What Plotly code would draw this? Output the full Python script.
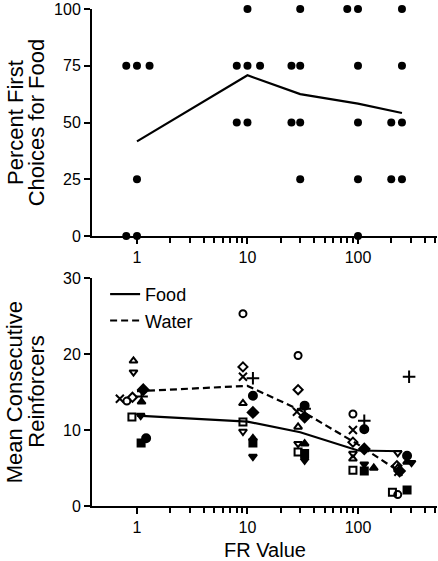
import plotly.graph_objects as go

# ---------------- data ----------------
fr_values = [1, 10, 30, 100, 250]

# top panel: individual subjects (x jittered around FR value), percent first choices for food
top_x = [0.8, 1, 1.3, 1, 0.8, 1,
         10, 8, 10, 13, 8, 10,
         30, 25, 30, 25, 30, 30,
         80, 100, 100, 100, 100, 100,
         250, 250, 200, 250, 200, 250]
top_y = [75, 75, 75, 25, 0, 0,
         100, 75, 75, 75, 50, 50,
         100, 75, 75, 50, 50, 25,
         100, 100, 75, 50, 25, 0,
         100, 75, 50, 50, 25, 25]
top_mean = [41.7, 70.8, 62.5, 58.3, 54.2]

# bottom panel means
food_mean = [11.9, 11.1, 9.7, 7.3, 7.2]
water_mean = [15.1, 15.8, 12.6, 8.1, 4.3]

# bottom panel individual subjects: water (open symbols / x)
w_circle_x = [0.81, 9.1, 28.7, 90, 229]
w_circle_y = [13.8, 25.3, 19.8, 12.1, 1.5]
w_square_x = [0.90, 9.1, 28.7, 90, 205]
w_square_y = [11.7, 11.05, 7.1, 4.7, 1.8]
w_triup_x = [0.93, 9.1, 28.7, 90, 229]
w_triup_y = [19.1, 13.5, 10.4, 6.2, 5.0]
w_tridown_x = [0.93, 9.1, 28.7, 90, 229]
w_tridown_y = [17.6, 9.8, 8.2, 6.9, 7.0]
w_diamond_x = [0.91, 9.1, 28.7, 90, 225]
w_diamond_y = [14.3, 18.3, 15.3, 8.4, 5.3]
w_x_x = [0.70, 9.1, 28.0, 90, 232]
w_x_y = [14.1, 17.0, 12.4, 10.0, 4.5]

# food (filled symbols / plus)
f_circle_x = [1.21, 11.2, 32.9, 114, 278]
f_circle_y = [8.9, 14.5, 13.2, 10.1, 6.6]
f_square_x = [1.09, 11.2, 32.9, 114, 278]
f_square_y = [8.3, 8.3, 6.9, 4.6, 2.1]
f_triup_x = [1.10, 11.2, 32.9, 139, 278]
f_triup_y = [13.7, 8.9, 8.2, 5.0, 5.8]
f_tridown_x = [1.08, 11.2, 32.9, 114, 305]
f_tridown_y = [11.9, 6.5, 6.0, 5.5, 5.7]
f_diamond_x = [1.14, 11.2, 32.9, 114, 238]
f_diamond_y = [15.3, 12.3, 11.7, 7.5, 4.6]
f_plus_x = [1.10, 11.2, 32.9, 114, 290]
f_plus_y = [14.4, 16.8, 12.8, 11.2, 17.0]

major_ticks = [1, 10, 100]
major_text = ["1", "10", "100"]
minor_ticks = [2, 3, 4, 5, 6, 7, 8, 9, 20, 30, 40, 50, 60, 70, 80, 90, 200, 300, 400, 500]
top_yticks = [0, 25, 50, 75, 100]
bot_yticks = [0, 10, 20, 30]

FONT = "Liberation Sans, Arial, Helvetica, sans-serif"

fig = go.Figure()

# ---------- top panel ----------
fig.add_trace(go.Scatter(x=fr_values, y=top_mean, mode="lines",
                         line=dict(color="black", width=2.2),
                         showlegend=False, xaxis="x", yaxis="y", cliponaxis=False))
fig.add_trace(go.Scatter(x=top_x, y=top_y, mode="markers",
                         marker=dict(symbol="circle", size=8, color="black"),
                         showlegend=False, xaxis="x", yaxis="y", cliponaxis=False))

# ---------- bottom panel ----------
fig.add_trace(go.Scatter(x=fr_values, y=food_mean, mode="lines", name="Food",
                         line=dict(color="black", width=2.2),
                         xaxis="x2", yaxis="y2", cliponaxis=False))
fig.add_trace(go.Scatter(x=fr_values, y=water_mean, mode="lines", name="Water",
                         line=dict(color="black", width=2.2, dash="7px,4px"),
                         xaxis="x2", yaxis="y2", cliponaxis=False))

series = [
    (w_circle_x, w_circle_y, "circle-open", 7),
    (w_square_x, w_square_y, "square-open", 7),
    (w_triup_x, w_triup_y, "triangle-up-open", 7),
    (w_tridown_x, w_tridown_y, "triangle-down-open", 7),
    (w_diamond_x, w_diamond_y, "diamond-open", 7),
    (w_x_x, w_x_y, "x-thin-open", 8),
    (f_circle_x, f_circle_y, "circle", 8),
    (f_square_x, f_square_y, "square", 7),
    (f_triup_x, f_triup_y, "triangle-up", 7),
    (f_tridown_x, f_tridown_y, "triangle-down", 7),
    (f_diamond_x, f_diamond_y, "diamond", 8),
    (f_plus_x, f_plus_y, "cross-thin-open", 9),
]
for xs, ys, sym, sz in series:
    fig.add_trace(go.Scatter(x=xs, y=ys, mode="markers", showlegend=False,
                             marker=dict(symbol=sym, size=sz, color="black",
                                         line=dict(color="black", width=2)),
                             xaxis="x2", yaxis="y2", cliponaxis=False))

xaxis_common = dict(type="log", range=[-0.407, 2.715], showgrid=False, zeroline=False,
                    showline=True, linecolor="black", linewidth=2,
                    ticks="outside", ticklen=6, tickwidth=2, tickcolor="black",
                    tickmode="array", tickvals=major_ticks, ticktext=major_text,
                    tickfont=dict(family=FONT, size=16, color="black"),
                    minor=dict(tickmode="array", tickvals=minor_ticks, ticks="outside",
                               ticklen=5, tickwidth=1.5, tickcolor="black", showgrid=False))
yaxis_common = dict(showgrid=False, zeroline=False, showline=True, linecolor="black",
                    linewidth=2, ticks="outside", ticklen=6, tickwidth=2, tickcolor="black",
                    tickfont=dict(family=FONT, size=16, color="black"))

fig.update_layout(
    width=438, height=561,
    margin=dict(l=92, r=1, t=7, b=55),
    paper_bgcolor="white", plot_bgcolor="white",
    font=dict(family=FONT, color="black"),
    xaxis=dict(anchor="y", **xaxis_common),
    yaxis=dict(domain=[0.5431, 1], range=[0, 100], tickvals=top_yticks, anchor="x",
               **yaxis_common),
    xaxis2=dict(anchor="y2", **xaxis_common),
    yaxis2=dict(domain=[0, 0.4589], range=[0, 30], tickvals=bot_yticks, anchor="x2",
                **yaxis_common),
    legend=dict(x=0.038, y=0.463, xanchor="left", yanchor="top",
                font=dict(family=FONT, size=18, color="black"),
                bgcolor="rgba(0,0,0,0)", borderwidth=0, tracegroupgap=0),
    showlegend=True,
)

title_font = dict(family=FONT, size=22, color="black")
annos = [
    ("Percent First", -0.222, 0.7716),
    ("Choices for Food", -0.160, 0.7716),
    ("Mean Consecutive", -0.222, 0.2295),
    ("Reinforcers", -0.160, 0.2295),
]
for txt, ax, ay in annos:
    fig.add_annotation(text=txt, x=ax, y=ay, xref="paper", yref="paper",
                       xanchor="center", yanchor="middle", textangle=-90,
                       showarrow=False, font=title_font)
fig.add_annotation(text="FR Value", x=0.5, y=-0.088, xref="paper", yref="paper",
                   xanchor="center", yanchor="middle", showarrow=False,
                   font=dict(family=FONT, size=20, color="black"))

fig.write_html("out.html", config={"displayModeBar": False},
               post_script="document.body.style.margin='0px';")
